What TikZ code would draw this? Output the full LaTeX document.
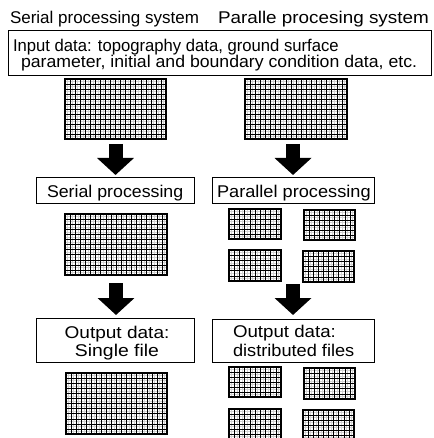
\documentclass[tikz,border=0pt]{standalone}
\usepackage{fontspec}
\setmainfont{Liberation Sans}
\usetikzlibrary{arrows.meta,calc}
\tikzset{
  lbl/.style={inner sep=0pt, outer sep=0pt, anchor=base west, font=\fontsize{17}{17}\selectfont},
  clbl/.style={inner sep=0pt, outer sep=0pt, anchor=base, font=\fontsize{17}{17}\selectfont},
  framebox/.style={draw, line width=1pt, inner sep=0pt, outer sep=0pt, anchor=north west},
  gridarea/.style={inner sep=0pt, outer sep=0pt, anchor=north west},
  fineln/.style={draw=black!18, line width=0.35pt},
  darkln/.style={draw=black, line width=0.45pt},
  frameln/.style={draw=black, line width=1.3pt},
  bigarrow/.style={line width=14pt, -{Triangle[width=36pt,length=17pt]}},
}
\newcommand\mygrid[3]{%
  \foreach \i in {1,...,#2}{
    \draw[fineln] ($(#1.north west)!{(\i-0.5)/#2}!(#1.north east)$) -- ($(#1.south west)!{(\i-0.5)/#2}!(#1.south east)$);
  }
  \foreach \j in {1,...,#3}{
    \draw[fineln] ($(#1.north west)!{(\j-0.5)/#3}!(#1.south west)$) -- ($(#1.north east)!{(\j-0.5)/#3}!(#1.south east)$);
  }
  \foreach \i in {1,...,#2}{
    \draw[darkln] ($(#1.north west)!{\i/#2}!(#1.north east)$) -- ($(#1.south west)!{\i/#2}!(#1.south east)$);
  }
  \foreach \j in {1,...,#3}{
    \draw[darkln] ($(#1.north west)!{\j/#3}!(#1.south west)$) -- ($(#1.north east)!{\j/#3}!(#1.south east)$);
  }
  \draw[frameln] (#1.north west) rectangle (#1.south east);
}
\begin{document}
\begin{tikzpicture}[x=1pt,y=-1pt]
\useasboundingbox (0,0) rectangle (433,438);
\clip (0,0) rectangle (433,438);

% titles
\node[lbl] (t1) at (10,24) {Serial processing system};
\node[lbl] (t2) at (218,24) {\scalebox{1.11}[1]{Paralle procesing system}};

% input box
\node[framebox, minimum width=423pt, minimum height=45pt] (inp) at (8,31) {};
\node[lbl] (in1) at (13,52) {\scalebox{0.98}[1]{Input data: topography data, ground surface}};
\node[lbl] (in2) at (21,68) {\scalebox{1.04}[1]{parameter, initial and boundary condition data, etc.}};

% input grids
\node[gridarea, minimum width=101pt, minimum height=60pt] (g1) at (65,79) {};
\node[gridarea, minimum width=102pt, minimum height=60pt] (g2) at (245,79) {};
\mygrid{g1}{20}{12}
\mygrid{g2}{20}{12}

% processing boxes
\node[framebox, minimum width=158pt, minimum height=25pt] (sp) at (36,178) {};
\node[lbl] (spt) at (47,197) {\scalebox{1.045}[1]{Serial processing}};
\node[framebox, minimum width=162pt, minimum height=25pt] (pp) at (212,178) {};
\node[lbl] (ppt) at (217,197) {\scalebox{1.07}[1]{Parallel processing}};

% arrows 1
\draw[bigarrow] ($(g1.south)+(0,5)$) -- ($(g1.south |- sp.north)+(0,-3)$);
\draw[bigarrow] ($(pp.north |- g2.south)+(0,5)$) -- ($(pp.north)+(0,-3)$);

% serial result grid
\node[gridarea, minimum width=102pt, minimum height=61pt] (sg) at (65,214) {};
\mygrid{sg}{20}{12}

% parallel sub grids
\node[gridarea, minimum width=52pt, minimum height=30pt] (pa) at (229,209) {};
\node[gridarea, minimum width=51pt, minimum height=30pt] (pb) at (304,210) {};
\node[gridarea, minimum width=52pt, minimum height=31pt] (pc) at (229,250) {};
\node[gridarea, minimum width=51pt, minimum height=31pt] (pd) at (303,251) {};
\mygrid{pa}{10}{6}
\mygrid{pb}{10}{6}
\mygrid{pc}{10}{6}
\mygrid{pd}{10}{6}

% output boxes
\node[framebox, minimum width=158pt, minimum height=44pt] (os) at (36,318) {};
\node[clbl] (os1) at (117,338) {\scalebox{1.12}[1]{Output data:}};
\node[clbl] (os2) at (117,356) {\scalebox{1.14}[1]{Single file}};
\node[framebox, minimum width=162pt, minimum height=43pt] (od) at (212,319) {};
\node[lbl] (od1) at (233,337.5) {\scalebox{1.1}[1]{Output data:}};
\node[lbl] (od2) at (233,356) {\scalebox{1.07}[1]{distributed files}};

% arrows 2
\draw[bigarrow] ($(sg.south |- os.north)+(0,-35)$) -- ($(sg.south |- os.north)+(0,-3)$);
\draw[bigarrow] ($(od.north |- pd.south)+(0,2)$) -- ($(od.north)+(0,-4)$);

% output grids
\node[gridarea, minimum width=101pt, minimum height=61pt] (og) at (66,373) {};
\mygrid{og}{20}{12}
\node[gridarea, minimum width=52pt, minimum height=30pt] (oa) at (229,367) {};
\node[gridarea, minimum width=51pt, minimum height=31pt] (ob) at (304,368) {};
\node[gridarea, minimum width=52pt, minimum height=30pt] (oc) at (229,409) {};
\node[gridarea, minimum width=51pt, minimum height=30pt] (oe) at (303,410) {};
\mygrid{oa}{10}{6}
\mygrid{ob}{10}{6}
\mygrid{oc}{10}{6}
\mygrid{oe}{10}{6}
\end{tikzpicture}
\end{document}
